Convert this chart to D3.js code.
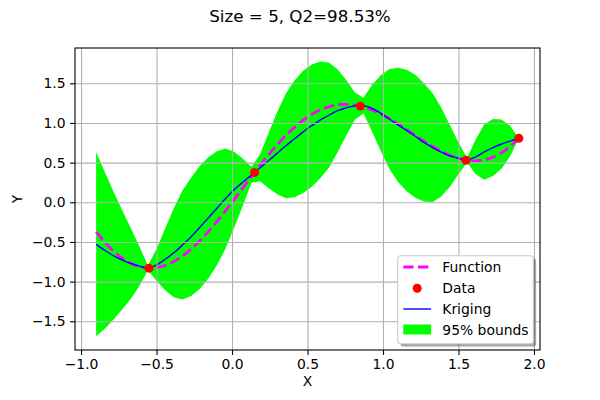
<!DOCTYPE html>
<html><head><meta charset="utf-8">
<script src="https://cdn.jsdelivr.net/npm/d3@7"></script>
<style>body{margin:0;background:#fff}svg text{font-family:"DejaVu Sans",sans-serif;fill:#000}</style>
</head><body><svg id="c" width="600" height="400"></svg>
<script>
// ---- data ----
const titleText = "Size = 5, Q2=98.53%";
const funcX = [-0.9,-0.8,-0.7,-0.6,-0.5,-0.4,-0.3,-0.2,-0.1,0.0,0.1,0.2,0.3,0.4,0.5,0.6,0.7,0.8,0.9,1.0,1.1,1.2,1.3,1.4,1.5,1.6,1.7,1.8,1.9];
const funcY = [-0.373,-0.589,-0.739,-0.817,-0.824,-0.761,-0.637,-0.459,-0.242,0.000,0.252,0.499,0.727,0.921,1.074,1.177,1.229,1.229,1.183,1.098,0.987,0.861,0.737,0.629,0.553,0.523,0.550,0.642,0.806];
const dataX = [-0.55,0.15,0.85,1.55,1.9];
const dataY = [-0.830,0.377,1.212,0.530,0.806];
const gridX = [-0.900,-0.843,-0.786,-0.729,-0.671,-0.614,-0.557,-0.500,-0.443,-0.386,-0.329,-0.271,-0.214,-0.157,-0.100,-0.043,0.014,0.071,0.129,0.186,0.243,0.300,0.357,0.414,0.471,0.529,0.586,0.643,0.700,0.757,0.814,0.871,0.929,0.986,1.043,1.100,1.157,1.214,1.271,1.329,1.386,1.443,1.500,1.557,1.614,1.671,1.729,1.786,1.843,1.900];
const krigY = [-0.530,-0.605,-0.672,-0.725,-0.770,-0.805,-0.828,-0.790,-0.720,-0.638,-0.540,-0.435,-0.318,-0.197,-0.075,0.047,0.158,0.253,0.345,0.435,0.527,0.620,0.712,0.800,0.888,0.967,1.040,1.100,1.155,1.192,1.215,1.218,1.185,1.122,1.050,0.975,0.905,0.832,0.755,0.690,0.632,0.585,0.555,0.533,0.572,0.635,0.690,0.735,0.772,0.806];
const lowerY = [-1.690,-1.595,-1.482,-1.355,-1.220,-1.055,-0.858,-0.990,-1.110,-1.198,-1.225,-1.180,-1.093,-0.962,-0.795,-0.583,-0.322,-0.047,0.245,0.265,0.177,0.100,0.052,0.065,0.118,0.197,0.305,0.440,0.635,0.842,1.045,1.118,0.885,0.642,0.420,0.255,0.140,0.057,0.010,0.005,0.072,0.195,0.355,0.503,0.352,0.285,0.330,0.425,0.582,0.806];
const upperY = [0.630,0.385,0.138,-0.095,-0.320,-0.555,-0.798,-0.590,-0.330,-0.078,0.145,0.310,0.457,0.568,0.645,0.677,0.638,0.553,0.445,0.605,0.877,1.140,1.372,1.535,1.658,1.737,1.775,1.760,1.675,1.542,1.385,1.318,1.485,1.602,1.680,1.695,1.670,1.607,1.500,1.375,1.192,0.975,0.755,0.563,0.792,0.985,1.050,1.045,0.962,0.806];
const xTicks = [-1.0,-0.5,0.0,0.5,1.0,1.5,2.0];
const yTicks = [-1.5,-1.0,-0.5,0.0,0.5,1.0,1.5];
const legendLabels = ["Function","Data","Kriging","95% bounds"];

// ---- layout ----
const L=75,R=540,T=48,B=350;
const svg=d3.select("#c");
const x=d3.scaleLinear().domain([-1.04,2.04]).range([L,R]);
const y=d3.scaleLinear().domain([-1.862,1.945]).range([B,T]);
const fmt=v=>d3.format(".1f")(v).replace("-","\u2212");

svg.append("defs").append("clipPath").attr("id","clip").append("rect").attr("x",L).attr("y",T).attr("width",R-L).attr("height",B-T);
const plot=svg.append("g").attr("clip-path","url(#clip)");

// band
const band=gridX.map((d,i)=>({x:d,lo:lowerY[i],hi:upperY[i]}));
plot.append("path").datum(band).attr("fill","#00ff00").attr("stroke","none")
  .attr("d",d3.area().x(d=>x(d.x)).y0(d=>y(d.lo)).y1(d=>y(d.hi)));

// grid
const gx=svg.append("g").attr("transform",`translate(0,${B})`).call(d3.axisBottom(x).tickValues(xTicks).tickSize(-(B-T)).tickFormat(""));
gx.selectAll("line").attr("stroke","#b0b0b0").attr("stroke-width",1.1);
gx.select(".domain").remove();
const gy=svg.append("g").attr("transform",`translate(${L},0)`).call(d3.axisLeft(y).tickValues(yTicks).tickSize(-(R-L)).tickFormat(""));
gy.selectAll("line").attr("stroke","#b0b0b0").attr("stroke-width",1.1);
gy.select(".domain").remove();

// function
plot.append("path").datum(funcX.map((d,i)=>[d,funcY[i]])).attr("fill","none").attr("stroke","#ff00ff")
  .attr("stroke-width",2.78).attr("stroke-dasharray","10.3,4.4")
  .attr("d",d3.line().x(d=>x(d[0])).y(d=>y(d[1])).curve(d3.curveCatmullRom));
// kriging
plot.append("path").datum(gridX.map((d,i)=>[d,krigY[i]])).attr("fill","none").attr("stroke","#0000ff")
  .attr("stroke-width",1.39)
  .attr("d",d3.line().x(d=>x(d[0])).y(d=>y(d[1])).curve(d3.curveCatmullRom));
// data
svg.append("g").selectAll("circle").data(dataX.map((d,i)=>[d,dataY[i]])).join("circle")
  .attr("cx",d=>x(d[0])).attr("cy",d=>y(d[1])).attr("r",4.5).attr("fill","#ff0000");

// axes
const ax=svg.append("g").attr("transform",`translate(0,${B})`).call(d3.axisBottom(x).tickValues(xTicks).tickSize(4.9).tickPadding(4.5).tickFormat(fmt));
const ay=svg.append("g").attr("transform",`translate(${L},0)`).call(d3.axisLeft(y).tickValues(yTicks).tickSize(4.9).tickPadding(4.5).tickFormat(fmt));
[ax,ay].forEach(a=>{a.select(".domain").remove();a.selectAll("line").attr("stroke","#000").attr("stroke-width",1.1);
  a.selectAll("text").attr("font-size","13.9px").attr("font-family","DejaVu Sans").attr("fill","#000");});
svg.append("rect").attr("x",L).attr("y",T).attr("width",R-L).attr("height",B-T).attr("fill","none").attr("stroke","#000").attr("stroke-width",1.1);

svg.append("text").attr("x",307.5).attr("y",385.5).attr("text-anchor","middle").attr("font-size","13.9px").text("X");
svg.append("text").attr("transform","translate(22,199) rotate(-90)").attr("text-anchor","middle").attr("font-size","13.9px").text("Y");
svg.append("text").attr("x",300).attr("y",22).attr("text-anchor","middle").attr("font-size","16.7px").text(titleText);

// legend
const lx=397.7,ly=255.7,lw=135.6,lh=88;
svg.append("rect").attr("x",lx+2.8).attr("y",ly+2.8).attr("width",lw).attr("height",lh).attr("rx",2.8).attr("fill","#4d4d4d").attr("opacity",0.5);
svg.append("rect").attr("x",lx).attr("y",ly).attr("width",lw).attr("height",lh).attr("rx",2.8).attr("fill","#fff").attr("stroke","#cccccc").attr("stroke-width",1.1);
const rows=[267,288.2,309,329.5];
const hx0=403.3,hx1=431.1;
svg.append("line").attr("x1",hx0).attr("x2",hx1).attr("y1",rows[0]).attr("y2",rows[0]).attr("stroke","#ff00ff").attr("stroke-width",2.78).attr("stroke-dasharray","10.3,4.4");
svg.append("circle").attr("cx",(hx0+hx1)/2).attr("cy",rows[1]).attr("r",4.5).attr("fill","#ff0000");
svg.append("line").attr("x1",hx0).attr("x2",hx1).attr("y1",rows[2]).attr("y2",rows[2]).attr("stroke","#0000ff").attr("stroke-width",1.39);
svg.append("rect").attr("x",hx0).attr("y",rows[3]-5).attr("width",hx1-hx0).attr("height",10).attr("fill","#00ff00");
legendLabels.forEach((t,i)=>svg.append("text").attr("x",442.3).attr("y",rows[i]+5).attr("font-size","13.9px").text(t));
</script></body></html>
